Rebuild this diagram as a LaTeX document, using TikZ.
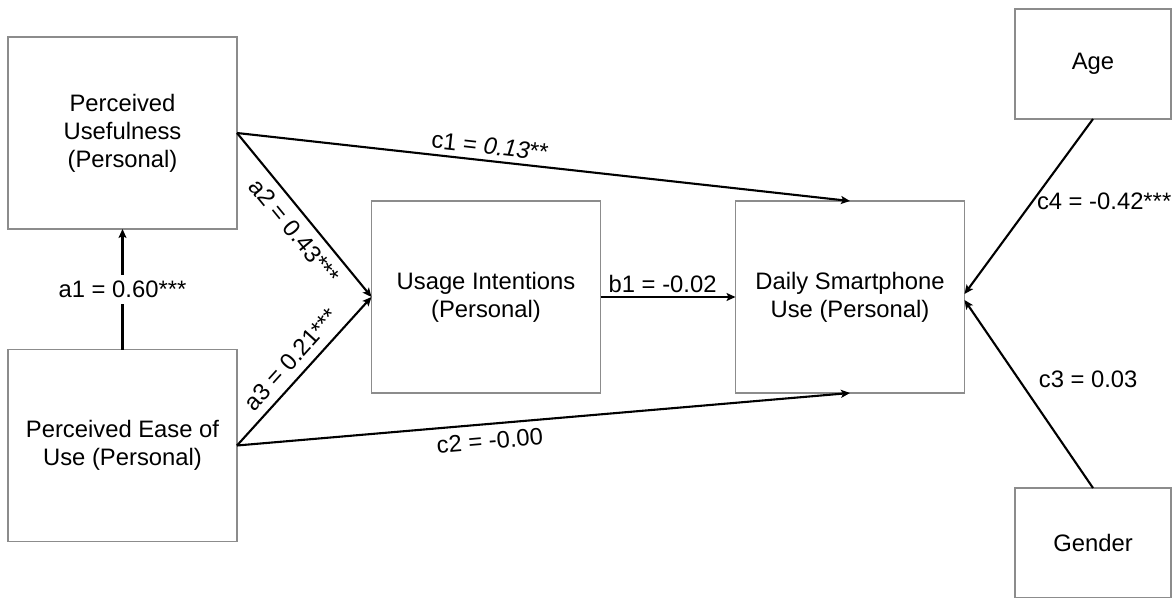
\documentclass[tikz,border=0pt]{standalone}
\usepackage{fontspec}
\setmainfont{Liberation Sans}
\usetikzlibrary{arrows.meta}
\begin{document}
\begin{tikzpicture}[x=1pt,y=-1pt,
  txt/.style={font=\fontsize{23.8}{28}\selectfont},
  box/.style={txt, draw=black!45, line width=1.2pt, fill=white,
    minimum width=229pt, minimum height=192pt, align=center,
    inner sep=0pt, outer sep=0pt},
  smallbox/.style={box, minimum width=156pt, minimum height=110pt},
  link/.style={line width=2.1pt, -{Stealth[length=9pt,width=8pt,inset=2pt]}},
  lbl/.style={txt}]
\useasboundingbox (0,0) rectangle (1174,597);

% constructs
\node[box] (pu)  at (122.5,133)   {Perceived\\Usefulness\\(Personal)};
\node[box] (peu) at (122.5,445.5) {Perceived Ease of\\Use (Personal)};
\node[box] (ui)  at (486,297)     {Usage Intentions\\(Personal)};
\node[box] (dsu) at (850,297)     {Daily Smartphone\\Use (Personal)};
\node[smallbox] (age)    at (1093,64)  {Age};
\node[smallbox] (gender) at (1093,543) {Gender};

% paths with coefficients
\draw[link] (peu.north) -- node[lbl, fill=white, inner sep=6pt] {a1 = 0.60***} (pu.south);
\draw[link] (pu.east) -- node[lbl, sloped, below=5pt, pos=0.53] {a2 = 0.43***} (ui.west);
\draw[link] (peu.east) -- node[lbl, sloped, above=5pt, pos=0.5] {a3 = 0.21***} (ui.west);
\draw[link] (pu.east) -- node[lbl, sloped, above=2pt, pos=0.41] {c1 = \textit{0.13}**} (dsu.north);
\draw[link] (peu.east) -- node[lbl, sloped, below=4pt, pos=0.41] {c2 = -0.00} (dsu.south);
\draw[link] (ui.east) -- node[lbl, above, pos=0.46] {b1 = -0.02} (dsu.west);
\draw[link] (age.south) -- node[lbl, anchor=west, pos=0.47] {c4 = -0.42***} ([yshift=3pt]dsu.east);
\draw[link] (gender.north) -- node[lbl, anchor=west, pos=0.58, xshift=16pt] {c3 = 0.03} ([yshift=-3pt]dsu.east);
\end{tikzpicture}
\end{document}
